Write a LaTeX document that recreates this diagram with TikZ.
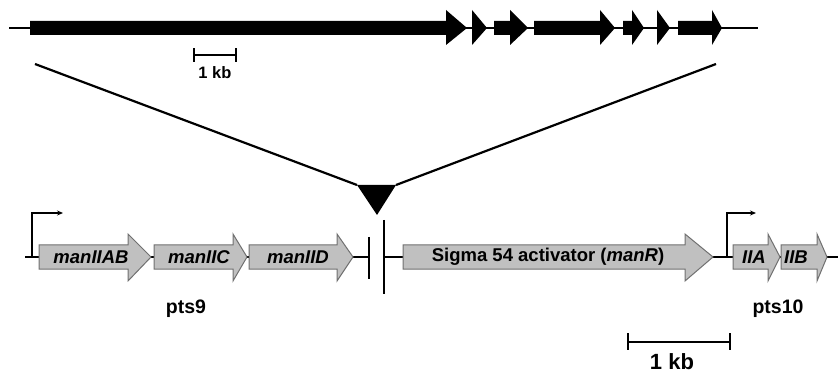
\documentclass[tikz,border=0pt]{standalone}
\usepackage{fontspec}
\setmainfont{Liberation Sans}
\usetikzlibrary{arrows.meta}
\definecolor{genefill}{HTML}{C0C0C0}
\definecolor{geneedge}{HTML}{707070}
\tikzset{
  track/.style={line width=2pt, black},
  blk/.style={fill=black, draw=none},
  gene/.style={fill=genefill, draw=geneedge, line width=1pt, line join=miter},
  genelabel/.style={font=\fontsize{18.5}{20}\selectfont\bfseries\itshape, inner sep=0pt},
  plainlabel/.style={font=\fontsize{18.5}{20}\selectfont\bfseries, inner sep=0pt},
  opname/.style={font=\fontsize{19.5}{21}\selectfont\bfseries, inner sep=0pt, anchor=base},
  scalebar/.style={line width=2pt, line cap=butt},
  term/.style={line width=2.5pt},
  prom/.style={line width=1.6pt, -{Stealth[length=6pt,width=5pt]}}
}
% gene arrow: x0, xbase, xtip
\newcommand{\genearrow}[3]{%
  \draw[gene] (#1,245) -- (#2,245) -- (#2,234) -- (#3,257) -- (#2,281) -- (#2,269) -- (#1,269) -- cycle;}
\newcommand{\blkarrow}[3]{%
  \fill[blk] (#1,21) -- (#2,21) -- (#2,10) -- (#3,28) -- (#2,45) -- (#2,35) -- (#1,35) -- cycle;}
\begin{document}
\begin{tikzpicture}[x=1pt,y=-1pt]
\useasboundingbox (0,0) rectangle (838,374);

% ---------- top overview track ----------
\draw[track] (9,28) -- (758,28);
\blkarrow{30}{446}{467}
\fill[blk] (472,10) -- (487,28) -- (472,45) -- cycle;
\blkarrow{494}{510}{528}
\blkarrow{534}{600}{615}
\blkarrow{623}{632}{644}
\fill[blk] (657,10) -- (670,28) -- (657,45) -- cycle;
\blkarrow{678}{712}{722}

% small scale bar
\coordinate (s1a) at (194,55);
\coordinate (s1b) at (236,55);
\draw[scalebar] (s1a) -- (s1b);
\draw[scalebar] (194,48.5) -- (194,62);
\draw[scalebar] (236,48.5) -- (236,62);
\node[font=\fontsize{16.5}{18}\selectfont\bfseries, anchor=base, inner sep=0pt] (kb1) at (215,79) {1 kb};

% ---------- zoom lines and insertion triangle ----------
\coordinate (zl) at (35,64);
\coordinate (zr) at (716,64);
\coordinate (tl) at (357,185);
\coordinate (tr) at (396,185);
\coordinate (tt) at (377,215);
\fill[blk] (tl) -- (tr) -- (tt) -- cycle;
\draw[line width=2.2pt] (zl) -- (tl);
\draw[line width=2.2pt] (zr) -- (tr);

% ---------- bottom detailed track ----------
\draw[track] (25,257) -- (369,257);
\draw[track] (384,257) -- (838,257);

% terminator bars
\draw[term] (369,237) -- (369,279);
\draw[term] (384,220) -- (384,294);

% promoters
\coordinate (p1) at (32,257);
\coordinate (p1e) at (63,213);
\draw[prom] (p1) -- (32,213) -- (p1e);
\coordinate (p2) at (727,257);
\coordinate (p2e) at (756,213);
\draw[prom] (p2) -- (727,213) -- (p2e);

% genes
\genearrow{39}{128}{151}
\genearrow{154}{233}{247}
\genearrow{249}{337}{353}
\genearrow{403}{685}{713}
\genearrow{733}{768}{780}
\genearrow{781}{817}{827}

\node[genelabel] (gAB) at (91,257) {manIIAB};
\node[genelabel] (gC) at (199,257) {manIIC};
\node[genelabel] (gD) at (298,257) {manIID};
\node[plainlabel] (gR) at (548,257) {Sigma 54 activator (\textit{manR})};
\node[genelabel] (gIIA) at (754,257) {IIA};
\node[genelabel] (gIIB) at (796,257) {IIB};

% operon names
\node[opname] (pts9) at (186,313) {pts9};
\node[opname] (pts10) at (778,313) {pts10};

% big scale bar
\draw[scalebar] (628,342) -- (730,342);
\draw[scalebar] (628,333) -- (628,350);
\draw[scalebar] (730,333) -- (730,350);
\node[font=\fontsize{22}{24}\selectfont\bfseries, anchor=base, inner sep=0pt] (kb2) at (672,369) {1 kb};
\end{tikzpicture}
\end{document}
